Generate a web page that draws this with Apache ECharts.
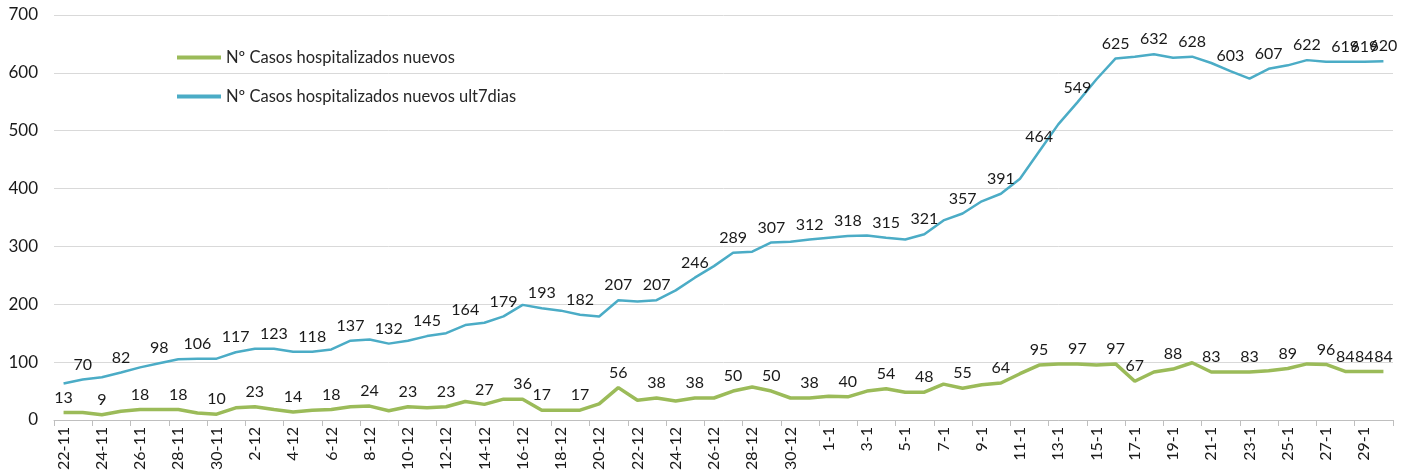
<!DOCTYPE html>
<html>
<head>
<meta charset="utf-8">
<script src="https://cdn.jsdelivr.net/npm/echarts@6/dist/echarts.min.js"></script>
<style>
  html, body { margin: 0; padding: 0; background: #fff; }
  #chart { width: 1417px; height: 475px; }
</style>
</head>
<body>
<div id="chart"></div>
<script>
const dates = [
  '22-11', '23-11', '24-11', '25-11', '26-11', '27-11', '28-11', '29-11', '30-11',
  '1-12', '2-12', '3-12', '4-12', '5-12', '6-12', '7-12', '8-12', '9-12', '10-12',
  '11-12', '12-12', '13-12', '14-12', '15-12', '16-12', '17-12', '18-12', '19-12',
  '20-12', '21-12', '22-12', '23-12', '24-12', '25-12', '26-12', '27-12', '28-12',
  '29-12', '30-12', '31-12', '1-1', '2-1', '3-1', '4-1', '5-1', '6-1', '7-1', '8-1',
  '9-1', '10-1', '11-1', '12-1', '13-1', '14-1', '15-1', '16-1', '17-1', '18-1',
  '19-1', '20-1', '21-1', '22-1', '23-1', '24-1', '25-1', '26-1', '27-1', '28-1',
  '29-1', '30-1'
];

const nuevos = [
  13, 13, 9, 15, 18, 18, 18, 12, 10, 21, 23, 18, 14, 17, 18, 23, 24, 16, 23, 21,
  23, 32, 27, 36, 36, 17, 17, 17, 28, 56, 34, 38, 33, 38, 38, 50, 57, 50, 38, 38,
  41, 40, 50, 54, 48, 48, 62, 55, 61, 64, 80, 95, 97, 97, 95, 97, 67, 83, 88, 99,
  83, 83, 83, 85, 89, 97, 96, 84, 84, 84
];

const ult7dias = [
  63, 70, 74, 82, 91, 98, 105, 106, 106, 117, 123, 123, 118, 118, 122, 137, 139, 132,
  137, 145, 150, 164, 168, 179, 199, 193, 189, 182, 179, 207, 205, 207, 224, 246,
  266, 289, 291, 307, 308, 312, 315, 318, 319, 315, 312, 321, 345, 357, 378, 391,
  417, 464, 511, 549, 589, 625, 628, 632, 626, 628, 617, 603, 590, 607, 613, 622,
  619, 619, 619, 620
];

// points that carry a data label in the original
const nuevosLabeled = [
  0, 2, 4, 6, 8, 10, 12, 14, 16, 18, 20, 22, 24, 25, 27, 29, 31, 33, 35, 37, 39, 41,
  43, 45, 47, 49, 51, 53, 55, 56, 58, 60, 62, 64, 66, 67, 68, 69
];
const ult7Labeled = [
  1, 3, 5, 7, 9, 11, 13, 15, 17, 19, 21, 23, 25, 27, 29, 31, 33, 35, 37, 39, 41, 43,
  45, 47, 49, 51, 53, 55, 57, 59, 61, 63, 65, 67, 68, 69
];

function withLabels(values, shown) {
  return values.map((v, i) => ({ value: v, label: { show: shown.includes(i) } }));
}

const chart = echarts.init(document.getElementById('chart'));

const labelStyle = {
  position: 'top',
  distance: 7,
  color: '#1a1a1a',
  fontSize: 16,
  fontFamily: 'Lato'
};

chart.setOption({
  animation: false,
  textStyle: { fontFamily: 'Lato' },
  grid: { left: 54, right: 24, top: 15, bottom: 55 },
  legend: {
    orient: 'vertical',
    left: 172,
    top: 44,
    icon: 'rect',
    itemWidth: 44,
    itemHeight: 4,
    itemGap: 22,
    textStyle: { color: '#262626', fontSize: 16.5, fontFamily: 'Lato' },
    data: ['Nº Casos hospitalizados nuevos', 'Nº Casos hospitalizados nuevos ult7dias']
  },
  xAxis: {
    type: 'category',
    data: dates,
    boundaryGap: true,
    axisLine: { lineStyle: { color: '#bfbfbf', width: 1 } },
    axisTick: { show: true, interval: 1, length: 6, lineStyle: { color: '#bfbfbf' } },
    axisLabel: {
      interval: 1,
      rotate: 90,
      margin: 7,
      color: '#1a1a1a',
      fontSize: 16,
      fontFamily: 'Lato'
    }
  },
  yAxis: {
    type: 'value',
    min: 0,
    max: 700,
    interval: 100,
    axisLine: { show: false },
    axisTick: { show: false },
    axisLabel: { color: '#1a1a1a', fontSize: 17, margin: 16, fontFamily: 'Lato' },
    splitLine: { lineStyle: { color: '#d9d9d9', width: 1 } }
  },
  series: [
    {
      name: 'Nº Casos hospitalizados nuevos',
      type: 'line',
      symbol: 'circle',
      symbolSize: 0,
      showAllSymbol: true,
      color: '#9bbb59',
      lineStyle: { width: 3.5, color: '#9bbb59' },
      label: labelStyle,
      data: withLabels(nuevos, nuevosLabeled)
    },
    {
      name: 'Nº Casos hospitalizados nuevos ult7dias',
      type: 'line',
      symbol: 'circle',
      symbolSize: 0,
      showAllSymbol: true,
      color: '#4bacc6',
      lineStyle: { width: 2.5, color: '#4bacc6' },
      label: labelStyle,
      data: withLabels(ult7dias, ult7Labeled)
    }
  ]
});

window.addEventListener('resize', function () {
  chart.resize();
});
</script>
</body>
</html>
